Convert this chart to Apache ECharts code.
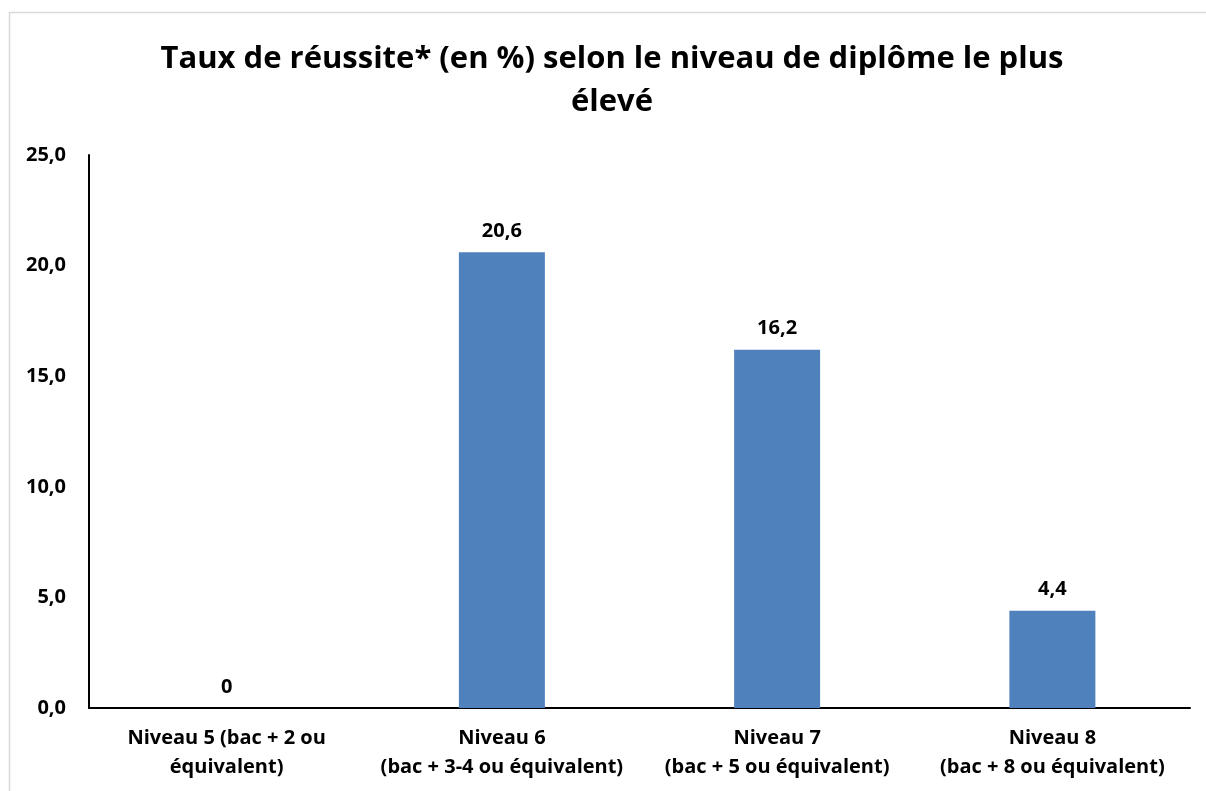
<!DOCTYPE html>
<html><head><meta charset="utf-8">
<script src="https://cdn.jsdelivr.net/npm/echarts@6/dist/echarts.min.js"></script>
<style>html,body{margin:0;padding:0;background:#fff;}#c{width:1206px;height:791px;}</style>
</head><body><div id="c"></div>
<script>
const categories = ["Niveau 5 (bac + 2 ou\néquivalent)", "Niveau 6\n(bac + 3-4 ou équivalent)", "Niveau 7\n(bac + 5 ou équivalent)", "Niveau 8\n(bac + 8 ou équivalent)"];
const values = [0, 20.6, 16.2, 4.4];
const titleText = "Taux de réussite* (en %) selon le niveau de diplôme le plus\nélevé";
const FONT = "'Open Sans', Lato, sans-serif";
const fmt = v => Number(v).toFixed(1).replace('.', ',');
const chart = echarts.init(document.getElementById('c'), null, {renderer: 'canvas'});
chart.setOption({
  animation: false,
  backgroundColor: '#fff',
  graphic: [
    {type: 'rect', left: 7, top: 10, shape: {width: 1260, height: 900}, style: {fill: 'none', stroke: '#d9d9d9', lineWidth: 1.5}, silent: true},
    {type: 'text', x: 612, y: 38, silent: true, style: {text: titleText, align: 'center', verticalAlign: 'top',
      fontFamily: FONT, fontWeight: 'bold', fontSize: 31, fill: '#000', lineHeight: 43}}
  ],
  grid: {left: 89, right: 16, top: 155, bottom: 83, containLabel: false},
  xAxis: {type: 'category', data: categories,
    axisLine: {lineStyle: {color: '#000', width: 2}}, axisTick: {show: false},
    axisLabel: {fontFamily: FONT, fontWeight: 'bold', fontSize: 20, color: '#000', lineHeight: 29, margin: 16, interval: 0}},
  yAxis: {type: 'value', min: 0, max: 25, interval: 5,
    axisLine: {show: true, lineStyle: {color: '#000', width: 2}}, axisTick: {show: false}, splitLine: {show: false},
    axisLabel: {fontFamily: FONT, fontWeight: 'bold', fontSize: 20, color: '#000', margin: 23, formatter: v => fmt(v)}},
  series: [{type: 'bar', data: values, barWidth: 86, itemStyle: {color: '#4f81bd'},
    label: {show: true, position: 'top', distance: 11, fontFamily: FONT, fontWeight: 'bold', fontSize: 20, color: '#000',
      formatter: p => p.value === 0 ? '0' : fmt(p.value)}}]
});
</script></body></html>
